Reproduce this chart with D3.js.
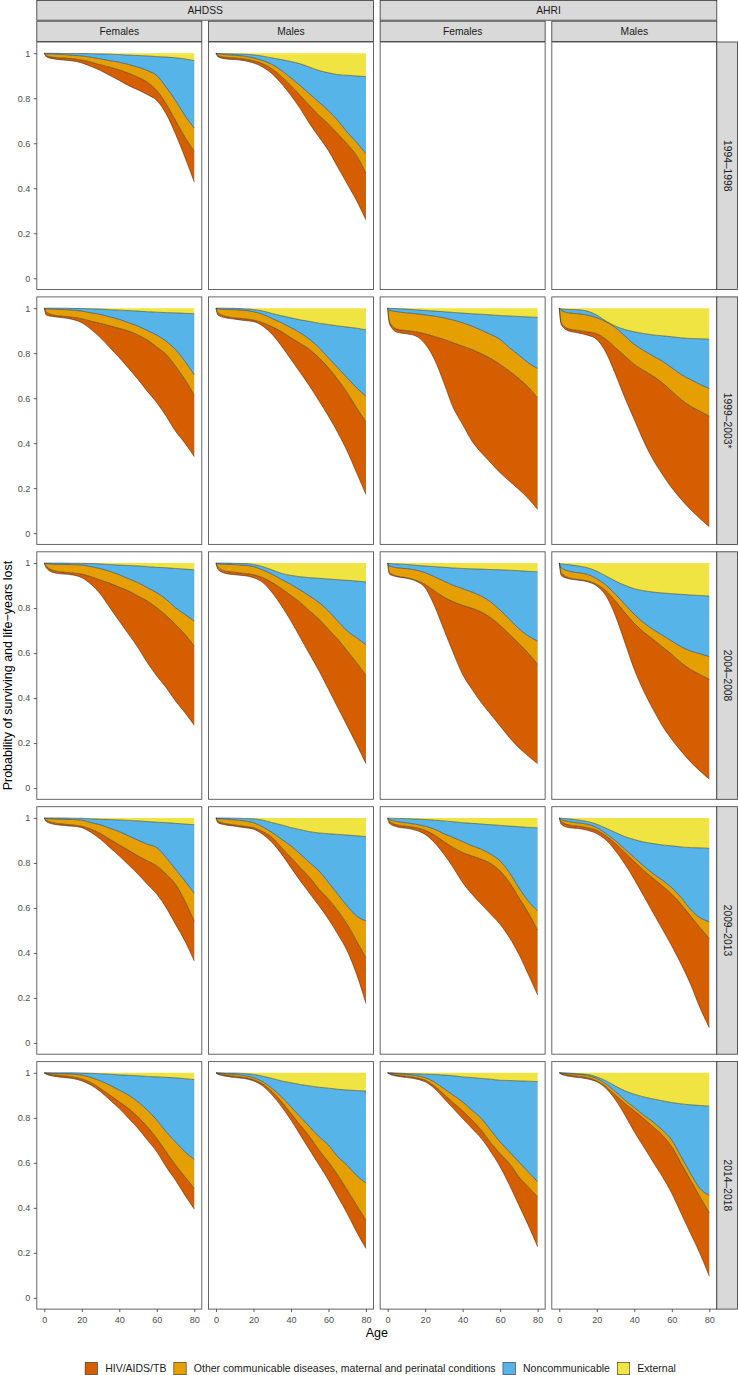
<!DOCTYPE html>
<html>
<head>
<meta charset="utf-8">
<script src="https://cdn.jsdelivr.net/npm/d3@7"></script>
<style>
  body { margin: 0; background: #fff; }
  svg { display: block; font-family: "Liberation Sans", Arial, sans-serif; }
</style>
</head>
<body>
<script>
// Facets and legend
const sites = ['AHDSS', 'AHRI'];
const sexes = ['Females', 'Males'];
const periods = ['1994\u20131998', '1999\u20132003*', '2004\u20132008', '2009\u20132013', '2014\u20132018'];
const causes = ['HIV/AIDS/TB', 'Other communicable diseases, maternal and perinatal conditions', 'Noncommunicable', 'External'];
const causeColors = ['#D55E00', '#E69F00', '#56B4E9', '#F0E442'];

const ages = [0, 1, 5, 10, 15, 20, 25, 30, 35, 40, 45, 50, 55, 60, 65, 70, 75, 80];
const xTicks = [0, 20, 40, 60, 80];
const yTicks = [0, 0.2, 0.4, 0.6, 0.8, 1];

// stacked boundaries, per panel:
// [survival, survival + HIV, + other communicable, + noncommunicable]  (external fills up to 1)
const AHDSS_F_1994 = [
  [1, 0.985, 0.975, 0.97, 0.966, 0.957, 0.941, 0.923, 0.901, 0.879, 0.856, 0.837, 0.816, 0.79, 0.73, 0.641, 0.538, 0.427],
  [1, 0.99, 0.982, 0.979, 0.976, 0.97, 0.96, 0.948, 0.938, 0.926, 0.911, 0.893, 0.871, 0.834, 0.775, 0.701, 0.627, 0.564],
  [1, 0.997, 0.996, 0.994, 0.991, 0.988, 0.982, 0.975, 0.967, 0.96, 0.95, 0.938, 0.923, 0.901, 0.849, 0.79, 0.723, 0.667],
  [1, 1, 1, 0.999, 0.999, 0.999, 0.998, 0.997, 0.996, 0.994, 0.992, 0.99, 0.988, 0.985, 0.983, 0.98, 0.975, 0.967]
];
const AHDSS_M_1994 = [
  [1, 0.985, 0.975, 0.972, 0.967, 0.957, 0.938, 0.908, 0.864, 0.812, 0.753, 0.686, 0.627, 0.567, 0.493, 0.419, 0.345, 0.259],
  [1, 0.99, 0.982, 0.979, 0.975, 0.967, 0.953, 0.93, 0.896, 0.856, 0.812, 0.767, 0.723, 0.686, 0.641, 0.597, 0.545, 0.467],
  [1, 0.997, 0.994, 0.991, 0.987, 0.979, 0.967, 0.95, 0.923, 0.89, 0.856, 0.819, 0.782, 0.745, 0.701, 0.649, 0.604, 0.553],
  [1, 0.999, 0.998, 0.997, 0.996, 0.993, 0.987, 0.979, 0.972, 0.963, 0.953, 0.938, 0.923, 0.913, 0.905, 0.902, 0.899, 0.896]
];
const AHDSS_F_1999 = [
  [1, 0.97, 0.962, 0.957, 0.95, 0.935, 0.905, 0.868, 0.824, 0.78, 0.732, 0.683, 0.63, 0.58, 0.52, 0.453, 0.40, 0.34],
  [1, 0.984, 0.969, 0.964, 0.96, 0.953, 0.942, 0.932, 0.921, 0.91, 0.898, 0.88, 0.858, 0.827, 0.794, 0.742, 0.683, 0.612],
  [1, 0.996, 0.995, 0.994, 0.991, 0.987, 0.979, 0.972, 0.961, 0.95, 0.935, 0.92, 0.9, 0.88, 0.853, 0.816, 0.764, 0.704],
  [1, 1, 1, 1, 0.999, 0.998, 0.997, 0.996, 0.993, 0.991, 0.989, 0.987, 0.984, 0.982, 0.98, 0.979, 0.977, 0.975]
];
const AHDSS_M_1999 = [
  [1, 0.969, 0.957, 0.951, 0.945, 0.94, 0.92, 0.883, 0.831, 0.772, 0.713, 0.653, 0.587, 0.52, 0.446, 0.364, 0.268, 0.172],
  [1, 0.98, 0.964, 0.957, 0.953, 0.947, 0.935, 0.917, 0.895, 0.868, 0.843, 0.816, 0.779, 0.735, 0.683, 0.624, 0.557, 0.495],
  [1, 0.996, 0.994, 0.993, 0.99, 0.984, 0.972, 0.954, 0.935, 0.913, 0.89, 0.861, 0.824, 0.779, 0.735, 0.69, 0.646, 0.609],
  [1, 1, 1, 0.999, 0.997, 0.994, 0.987, 0.976, 0.966, 0.957, 0.948, 0.941, 0.933, 0.927, 0.921, 0.916, 0.911, 0.904]
];
const AHRI_F_1999 = [
  [1, 0.93, 0.893, 0.886, 0.876, 0.841, 0.772, 0.668, 0.557, 0.483, 0.409, 0.357, 0.313, 0.268, 0.231, 0.194, 0.154, 0.105],
  [1, 0.938, 0.907, 0.90, 0.895, 0.886, 0.874, 0.861, 0.846, 0.831, 0.816, 0.797, 0.776, 0.75, 0.72, 0.687, 0.649, 0.601],
  [1, 0.991, 0.984, 0.979, 0.975, 0.97, 0.964, 0.957, 0.947, 0.935, 0.92, 0.902, 0.883, 0.861, 0.824, 0.791, 0.757, 0.732],
  [1, 0.999, 0.998, 0.996, 0.993, 0.99, 0.987, 0.984, 0.981, 0.978, 0.975, 0.973, 0.97, 0.967, 0.965, 0.963, 0.961, 0.959]
];
const AHRI_M_1999 = [
  [1, 0.927, 0.898, 0.89, 0.88, 0.861, 0.801, 0.705, 0.601, 0.505, 0.409, 0.327, 0.261, 0.201, 0.15, 0.105, 0.065, 0.028],
  [1, 0.935, 0.908, 0.901, 0.895, 0.886, 0.861, 0.824, 0.787, 0.75, 0.723, 0.698, 0.668, 0.631, 0.594, 0.564, 0.542, 0.52],
  [1, 0.99, 0.979, 0.975, 0.969, 0.957, 0.939, 0.913, 0.876, 0.839, 0.812, 0.787, 0.764, 0.735, 0.705, 0.683, 0.661, 0.643],
  [1, 0.997, 0.994, 0.993, 0.987, 0.969, 0.942, 0.92, 0.905, 0.895, 0.887, 0.881, 0.877, 0.873, 0.868, 0.865, 0.864, 0.862]
];
const AHDSS_F_2004 = [
  [1, 0.979, 0.957, 0.951, 0.947, 0.935, 0.905, 0.861, 0.801, 0.742, 0.683, 0.624, 0.557, 0.498, 0.446, 0.387, 0.335, 0.279],
  [1, 0.987, 0.967, 0.96, 0.956, 0.951, 0.939, 0.924, 0.91, 0.893, 0.876, 0.853, 0.831, 0.801, 0.767, 0.727, 0.683, 0.631],
  [1, 0.997, 0.994, 0.994, 0.993, 0.991, 0.984, 0.975, 0.963, 0.948, 0.93, 0.913, 0.89, 0.868, 0.839, 0.801, 0.772, 0.742],
  [1, 1, 1, 1, 0.999, 0.999, 0.998, 0.996, 0.993, 0.991, 0.989, 0.987, 0.984, 0.981, 0.979, 0.976, 0.973, 0.97]
];
const AHDSS_M_2004 = [
  [1, 0.972, 0.954, 0.948, 0.944, 0.935, 0.913, 0.868, 0.809, 0.742, 0.668, 0.594, 0.52, 0.439, 0.357, 0.276, 0.194, 0.108],
  [1, 0.984, 0.964, 0.959, 0.954, 0.948, 0.935, 0.913, 0.886, 0.856, 0.824, 0.787, 0.75, 0.705, 0.661, 0.609, 0.557, 0.501],
  [1, 0.996, 0.994, 0.993, 0.99, 0.984, 0.969, 0.95, 0.927, 0.905, 0.88, 0.853, 0.824, 0.787, 0.742, 0.698, 0.668, 0.637],
  [1, 1, 1, 0.999, 0.998, 0.994, 0.984, 0.969, 0.954, 0.945, 0.939, 0.935, 0.932, 0.929, 0.926, 0.923, 0.92, 0.916]
];
const AHRI_F_2004 = [
  [1, 0.95, 0.939, 0.932, 0.92, 0.89, 0.809, 0.705, 0.601, 0.505, 0.439, 0.379, 0.327, 0.276, 0.224, 0.179, 0.142, 0.108],
  [1, 0.957, 0.942, 0.935, 0.924, 0.905, 0.876, 0.849, 0.828, 0.812, 0.799, 0.782, 0.757, 0.723, 0.683, 0.643, 0.599, 0.55],
  [1, 0.987, 0.979, 0.975, 0.969, 0.957, 0.939, 0.92, 0.901, 0.886, 0.871, 0.853, 0.827, 0.791, 0.75, 0.708, 0.676, 0.653],
  [1, 0.998, 0.996, 0.994, 0.99, 0.987, 0.984, 0.981, 0.978, 0.976, 0.974, 0.973, 0.971, 0.97, 0.968, 0.966, 0.963, 0.961]
];
const AHRI_M_2004 = [
  [1, 0.945, 0.93, 0.924, 0.917, 0.898, 0.853, 0.764, 0.646, 0.527, 0.431, 0.35, 0.276, 0.216, 0.164, 0.116, 0.076, 0.039],
  [1, 0.957, 0.935, 0.927, 0.92, 0.905, 0.876, 0.831, 0.779, 0.732, 0.693, 0.661, 0.628, 0.594, 0.557, 0.527, 0.505, 0.483],
  [1, 0.979, 0.964, 0.957, 0.95, 0.93, 0.901, 0.861, 0.816, 0.772, 0.735, 0.705, 0.679, 0.653, 0.628, 0.609, 0.597, 0.584],
  [1, 0.996, 0.993, 0.987, 0.979, 0.964, 0.942, 0.92, 0.901, 0.886, 0.877, 0.871, 0.867, 0.864, 0.861, 0.858, 0.856, 0.853]
];
const AHDSS_F_2009 = [
  [1, 0.984, 0.972, 0.967, 0.963, 0.957, 0.935, 0.905, 0.868, 0.831, 0.791, 0.75, 0.705, 0.661, 0.601, 0.527, 0.453, 0.364],
  [1, 0.99, 0.978, 0.973, 0.969, 0.963, 0.95, 0.93, 0.905, 0.88, 0.856, 0.831, 0.809, 0.787, 0.75, 0.705, 0.631, 0.539],
  [1, 0.997, 0.996, 0.994, 0.993, 0.99, 0.979, 0.969, 0.954, 0.939, 0.92, 0.901, 0.883, 0.868, 0.824, 0.772, 0.72, 0.665],
  [1, 1, 1, 1, 0.999, 0.999, 0.996, 0.994, 0.993, 0.991, 0.989, 0.987, 0.984, 0.981, 0.979, 0.976, 0.973, 0.97]
];
const AHDSS_M_2009 = [
  [1, 0.979, 0.969, 0.963, 0.957, 0.95, 0.927, 0.89, 0.839, 0.779, 0.72, 0.664, 0.609, 0.55, 0.483, 0.409, 0.305, 0.175],
  [1, 0.987, 0.975, 0.969, 0.963, 0.957, 0.939, 0.913, 0.868, 0.824, 0.779, 0.735, 0.683, 0.639, 0.587, 0.527, 0.453, 0.379],
  [1, 0.997, 0.994, 0.991, 0.987, 0.979, 0.96, 0.935, 0.905, 0.876, 0.839, 0.801, 0.764, 0.713, 0.661, 0.609, 0.564, 0.542],
  [1, 1, 1, 0.999, 0.998, 0.996, 0.99, 0.979, 0.969, 0.957, 0.948, 0.939, 0.933, 0.93, 0.927, 0.924, 0.921, 0.917]
];
const AHRI_F_2009 = [
  [1, 0.975, 0.96, 0.954, 0.945, 0.927, 0.89, 0.839, 0.779, 0.713, 0.661, 0.616, 0.572, 0.527, 0.468, 0.394, 0.305, 0.213],
  [1, 0.984, 0.969, 0.963, 0.957, 0.945, 0.924, 0.895, 0.868, 0.846, 0.831, 0.816, 0.797, 0.764, 0.713, 0.646, 0.579, 0.501],
  [1, 0.993, 0.984, 0.978, 0.972, 0.963, 0.95, 0.93, 0.913, 0.895, 0.876, 0.861, 0.839, 0.809, 0.757, 0.69, 0.631, 0.587],
  [1, 0.999, 0.998, 0.997, 0.995, 0.993, 0.99, 0.987, 0.983, 0.979, 0.976, 0.973, 0.97, 0.967, 0.964, 0.961, 0.958, 0.956]
];
const AHRI_M_2009 = [
  [1, 0.972, 0.957, 0.953, 0.945, 0.93, 0.901, 0.853, 0.794, 0.727, 0.653, 0.579, 0.505, 0.431, 0.35, 0.261, 0.157, 0.068],
  [1, 0.984, 0.969, 0.963, 0.957, 0.945, 0.92, 0.886, 0.846, 0.806, 0.767, 0.732, 0.698, 0.661, 0.616, 0.564, 0.513, 0.464],
  [1, 0.993, 0.984, 0.978, 0.972, 0.957, 0.93, 0.898, 0.861, 0.824, 0.787, 0.753, 0.723, 0.69, 0.646, 0.594, 0.557, 0.539],
  [1, 0.999, 0.996, 0.991, 0.984, 0.972, 0.954, 0.935, 0.917, 0.904, 0.893, 0.886, 0.88, 0.876, 0.871, 0.868, 0.867, 0.865]
];
const AHDSS_F_2014 = [
  [1, 0.994, 0.985, 0.979, 0.975, 0.964, 0.945, 0.916, 0.879, 0.841, 0.797, 0.753, 0.701, 0.649, 0.582, 0.523, 0.456, 0.394],
  [1, 0.997, 0.991, 0.987, 0.982, 0.973, 0.956, 0.93, 0.901, 0.871, 0.841, 0.804, 0.76, 0.708, 0.649, 0.59, 0.538, 0.486],
  [1, 0.999, 0.997, 0.996, 0.994, 0.99, 0.979, 0.964, 0.945, 0.923, 0.901, 0.871, 0.834, 0.79, 0.738, 0.693, 0.649, 0.615],
  [1, 1, 1, 1, 1, 0.999, 0.998, 0.996, 0.994, 0.991, 0.989, 0.987, 0.984, 0.982, 0.98, 0.978, 0.974, 0.97]
];
const AHDSS_M_2014 = [
  [1, 0.994, 0.985, 0.979, 0.975, 0.964, 0.941, 0.901, 0.849, 0.79, 0.723, 0.656, 0.59, 0.523, 0.449, 0.375, 0.293, 0.219],
  [1, 0.997, 0.99, 0.985, 0.979, 0.97, 0.95, 0.916, 0.871, 0.819, 0.767, 0.716, 0.656, 0.604, 0.545, 0.479, 0.412, 0.345],
  [1, 0.999, 0.996, 0.993, 0.988, 0.979, 0.96, 0.93, 0.893, 0.849, 0.804, 0.76, 0.716, 0.679, 0.627, 0.589, 0.544, 0.511],
  [1, 1, 0.999, 0.999, 0.997, 0.993, 0.985, 0.975, 0.964, 0.956, 0.948, 0.942, 0.936, 0.932, 0.927, 0.924, 0.921, 0.919]
];
const AHRI_F_2014 = [
  [1, 0.994, 0.985, 0.979, 0.973, 0.96, 0.93, 0.886, 0.841, 0.797, 0.753, 0.708, 0.649, 0.582, 0.501, 0.412, 0.323, 0.227],
  [1, 0.997, 0.99, 0.985, 0.979, 0.967, 0.941, 0.905, 0.867, 0.831, 0.79, 0.745, 0.689, 0.641, 0.597, 0.538, 0.493, 0.449],
  [1, 0.999, 0.996, 0.993, 0.988, 0.979, 0.959, 0.93, 0.901, 0.871, 0.834, 0.797, 0.745, 0.693, 0.649, 0.604, 0.56, 0.516],
  [1, 1, 0.999, 0.997, 0.996, 0.994, 0.993, 0.99, 0.987, 0.982, 0.979, 0.975, 0.972, 0.967, 0.966, 0.964, 0.963, 0.961]
];
const AHRI_M_2014 = [
  [1, 0.994, 0.985, 0.979, 0.973, 0.96, 0.93, 0.879, 0.812, 0.738, 0.671, 0.604, 0.538, 0.464, 0.375, 0.286, 0.197, 0.096],
  [1, 0.997, 0.99, 0.985, 0.979, 0.964, 0.938, 0.901, 0.864, 0.831, 0.797, 0.76, 0.723, 0.671, 0.597, 0.523, 0.449, 0.378],
  [1, 0.999, 0.996, 0.993, 0.988, 0.975, 0.95, 0.916, 0.879, 0.846, 0.812, 0.782, 0.745, 0.701, 0.627, 0.553, 0.486, 0.456],
  [1, 1, 0.999, 0.996, 0.993, 0.982, 0.964, 0.941, 0.92, 0.905, 0.893, 0.884, 0.876, 0.868, 0.862, 0.858, 0.855, 0.852]
];

// grid of panels: rows = periods, columns = site x sex (AHRI has no 1994-1998 data)
const grid = [
  [AHDSS_F_1994, AHDSS_M_1994, null, null],
  [AHDSS_F_1999, AHDSS_M_1999, AHRI_F_1999, AHRI_M_1999],
  [AHDSS_F_2004, AHDSS_M_2004, AHRI_F_2004, AHRI_M_2004],
  [AHDSS_F_2009, AHDSS_M_2009, AHRI_F_2009, AHRI_M_2009],
  [AHDSS_F_2014, AHDSS_M_2014, AHRI_F_2014, AHRI_M_2014]
];

const width = 738, height = 1375;
const panelW = 165, panelH = 247.5;
const left0 = 36.8, stepX = 171.67;
const top0 = 42, stepY = 254.9;
const stripW = 20.7;
const font = '"Liberation Sans", Arial, sans-serif';

let svg = d3.select('body').append('svg')
            .attr('width', width).attr('height', height);

const xscale = d3.scaleLinear().domain([-4, 84]).range([0, panelW]);
const yscale = d3.scaleLinear().domain([-0.05, 1.05]).range([panelH, 0]);

const ones = ages.map(() => 1);

const areaGen = (lo, hi) => d3.area()
  .x((d, i) => xscale(ages[i]))
  .y0((d, i) => yscale(lo[i]))
  .y1((d, i) => yscale(hi[i]))
  .curve(d3.curveMonotoneX)(ages);

const lineGen = vals => d3.line()
  .x((d, i) => xscale(ages[i]))
  .y((d, i) => yscale(vals[i]))
  .curve(d3.curveMonotoneX)(ages);

const colLeft = c => left0 + c * stepX;
const rowTop = r => top0 + r * stepY;

grid.forEach((row, r) => {
  row.forEach((bounds, c) => {
    const g = svg.append('g').attr('transform', `translate(${colLeft(c)},${rowTop(r)})`);
    g.append('rect').attr('width', panelW).attr('height', panelH).attr('fill', '#fff');
    if (bounds) {
      const layers = [bounds[0], bounds[1], bounds[2], bounds[3], ones];
      causes.forEach((cause, k) => {
        g.append('path')
          .attr('d', areaGen(layers[k], layers[k + 1]))
          .attr('fill', causeColors[k]);
      });
      bounds.forEach(b => {
        g.append('path')
          .attr('d', lineGen(b))
          .attr('fill', 'none')
          .attr('stroke', '#222')
          .attr('stroke-width', 0.5);
      });
    }
    g.append('rect').attr('width', panelW).attr('height', panelH)
      .attr('fill', 'none').attr('stroke', '#555').attr('stroke-width', 0.9);
  });
});

// y axis on first column
periods.forEach((p, r) => {
  const ax = svg.append('g')
    .attr('transform', `translate(${left0},${rowTop(r)})`)
    .call(d3.axisLeft(yscale).tickValues(yTicks).tickSize(3).tickPadding(3.5).tickFormat(d => String(d)));
  ax.select('.domain').remove();
  ax.selectAll('line').attr('stroke', '#333').attr('stroke-width', 0.8);
  ax.selectAll('text').attr('fill', '#4d4d4d').style('font-size', '9.1px').style('font-family', font);
});

// x axis on bottom row
[0, 1, 2, 3].forEach(c => {
  const ax = svg.append('g')
    .attr('transform', `translate(${colLeft(c)},${rowTop(4) + panelH})`)
    .call(d3.axisBottom(xscale).tickValues(xTicks).tickSize(3).tickPadding(4).tickFormat(d => String(d)));
  ax.select('.domain').remove();
  ax.selectAll('line').attr('stroke', '#333').attr('stroke-width', 0.8);
  ax.selectAll('text').attr('fill', '#4d4d4d').style('font-size', '9.1px').style('font-family', font);
});

// top strips: site
sites.forEach((s, i) => {
  const x0 = colLeft(i * 2);
  const w = stepX + panelW;
  svg.append('rect').attr('x', x0).attr('y', 0.5).attr('width', w).attr('height', 19.7)
    .attr('fill', '#d9d9d9').attr('stroke', '#333').attr('stroke-width', 0.8);
  svg.append('text').attr('x', x0 + w / 2).attr('y', 14.2)
    .attr('text-anchor', 'middle').attr('fill', '#1a1a1a')
    .style('font-size', '10.3px').text(s);
});

// second strips: sex
[0, 1, 2, 3].forEach(c => {
  const x0 = colLeft(c);
  svg.append('rect').attr('x', x0).attr('y', 21.2).attr('width', panelW).attr('height', 20.3)
    .attr('fill', '#d9d9d9').attr('stroke', '#333').attr('stroke-width', 0.8);
  svg.append('text').attr('x', x0 + panelW / 2).attr('y', 35)
    .attr('text-anchor', 'middle').attr('fill', '#1a1a1a')
    .style('font-size', '10.3px').text(sexes[c % 2]);
});

// right strips: period
periods.forEach((p, r) => {
  const x0 = colLeft(3) + panelW;
  svg.append('rect').attr('x', x0).attr('y', rowTop(r)).attr('width', stripW).attr('height', panelH)
    .attr('fill', '#d9d9d9').attr('stroke', '#333').attr('stroke-width', 0.8);
  svg.append('text')
    .attr('transform', `translate(${x0 + stripW / 2 - 3.6},${rowTop(r) + panelH / 2}) rotate(90)`)
    .attr('text-anchor', 'middle').attr('fill', '#1a1a1a')
    .style('font-size', '10.3px').text(p);
});

// axis titles
const plotMid = (colLeft(0) + colLeft(3) + panelW) / 2;
svg.append('text')
  .attr('x', plotMid).attr('y', 1337)
  .attr('text-anchor', 'middle').attr('fill', '#000')
  .style('font-size', '12.5px').text('Age');

svg.append('text')
  .attr('transform', `translate(12,${(rowTop(0) + rowTop(4) + panelH) / 2}) rotate(-90)`)
  .attr('text-anchor', 'middle').attr('fill', '#000')
  .style('font-size', '12.5px').text('Probability of surviving and life\u2212years lost');

// legend
const legend = svg.append('g');
const keySize = 12.4;
let lx = 0;
causes.forEach((cause, k) => {
  legend.append('rect').attr('x', lx).attr('y', -keySize / 2)
    .attr('width', keySize).attr('height', keySize)
    .attr('fill', causeColors[k]).attr('stroke', '#333').attr('stroke-width', 0.6);
  const t = legend.append('text').attr('x', lx + keySize + 7.6).attr('y', 3.7)
    .attr('fill', '#1a1a1a').style('font-size', '10.5px').text(cause);
  lx += keySize + 7.6 + t.node().getComputedTextLength() + 7.4;
});
lx -= 7.4;
legend.attr('transform', `translate(${380.5 - lx / 2},1368.5)`);
</script>
</body>
</html>
